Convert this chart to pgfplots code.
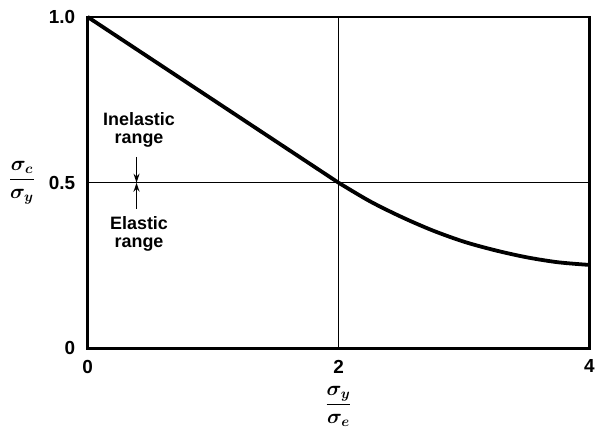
\documentclass[border=0pt]{standalone}
\usepackage{pgfplots}
\pgfplotsset{compat=1.18}
\usepackage{fontspec}
\usepackage{amsmath}
\usepackage{bm}
\setmainfont{Liberation Sans}
\usetikzlibrary{arrows.meta}

\begin{document}
\begin{tikzpicture}
\begin{axis}[
  scale only axis,
  width=504pt, height=333pt,
  xmin=0, xmax=4, ymin=0, ymax=1,
  xtick={0,2,4}, ytick={0,0.5,1},
  yticklabels={0,0.5,1.0},
  major tick length=0pt,
  /pgf/number format/assume math mode=true,
  tick label style={font=\fontsize{19}{21}\selectfont\bfseries},
  xticklabel style={yshift=-8pt},
  yticklabel style={xshift=-9pt},
  grid=major,
  grid style={black, line width=1.5pt},
  axis line style={line width=2.6pt},
  clip=false,
]
  % inelastic range: straight-line formula
  \addplot[black, line width=3.8pt] coordinates {
    (0,1.0) (1,0.75) (2,0.5)
  };
  % elastic range: Euler curve
  \addplot[black, line width=3.8pt, smooth] coordinates {
    (2,0.5) (2.25,0.444) (2.5,0.397) (2.75,0.356) (3,0.322)
    (3.25,0.296) (3.5,0.275) (3.75,0.260) (4,0.252)
  };

  % boundary marker between the two ranges
  \draw[line width=1.5pt, -{Stealth[length=9pt,width=6pt]}]
    (axis cs:0.39,0.578) -- (axis cs:0.39,0.5);
  \draw[line width=1.5pt, -{Stealth[length=9pt,width=6pt]}]
    (axis cs:0.39,0.422) -- (axis cs:0.39,0.5);
  \node[align=center, font=\fontsize{18}{18}\selectfont\bfseries]
    at (axis cs:0.41,0.66) {Inelastic\\range};
  \node[align=center, font=\fontsize{18}{18}\selectfont\bfseries]
    at (axis cs:0.41,0.345) {Elastic\\range};

  % axis titles
  \node[font=\fontsize{20}{22}\selectfont] at (rel axis cs:-0.131,0.5)
    {$\displaystyle\frac{\bm{\sigma}_{\bm{c}}}{\bm{\sigma}_{\bm{y}}}$};
  \node[font=\fontsize{20}{22}\selectfont] at (rel axis cs:0.5,-0.175)
    {$\displaystyle\frac{\bm{\sigma}_{\bm{y}}}{\bm{\sigma}_{\bm{e}}}$};
\end{axis}
\path[use as bounding box] (-88pt,-77pt) rectangle (510pt,350pt);
\end{tikzpicture}
\end{document}
